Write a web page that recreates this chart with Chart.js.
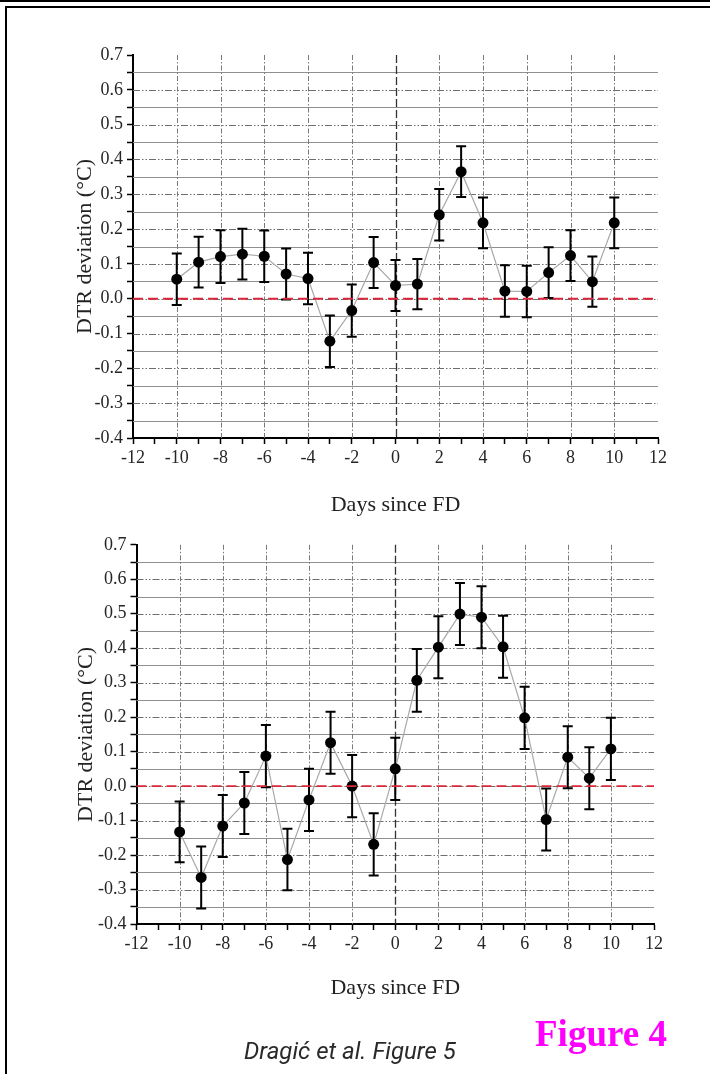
<!DOCTYPE html>
<html>
<head>
<meta charset="utf-8">
<script src="https://cdn.jsdelivr.net/npm/chart.js@4.4.1/dist/chart.umd.min.js"></script>
<style>
  html, body { margin: 0; padding: 0; background: #fff; }
  body { width: 710px; height: 1074px; position: relative; overflow: hidden; }
  .topline { position: absolute; left: 0; top: 0; width: 710px; height: 2px; background: #000; }
  .frame { position: absolute; left: 5px; top: 6px; width: 800px; height: 1200px; border: 2px solid #000; }
  canvas { position: absolute; left: 0; }
  #top { top: 0; }
  #bottom { top: 530px; }
  .credit { position: absolute; left: 244px; top: 1037px; font: italic 24px Roboto, sans-serif; line-height: 28px; color: #2a2a2a; }
  .fig { position: absolute; left: 535px; top: 1012px; font: bold 37px "Liberation Serif", serif; color: #ff00ff; }
</style>
</head>
<body>
<div class="topline"></div>
<div class="frame"></div>
<canvas id="top" width="710" height="530"></canvas>
<canvas id="bottom" width="710" height="510"></canvas>
<div class="credit">Dragić et al. Figure 5</div>
<div class="fig">Figure 4</div>
<script>
const days = [-10, -9, -8, -7, -6, -5, -4, -3, -2, -1, 0, 1, 2, 3, 4, 5, 6, 7, 8, 9, 10];

const topMean = [0.056, 0.105, 0.121, 0.128, 0.122, 0.071, 0.058, -0.122, -0.034, 0.104, 0.038,
  0.042, 0.241, 0.365, 0.218, 0.022, 0.021, 0.075, 0.124, 0.049, 0.218];
const topErr = [0.074, 0.073, 0.076, 0.073, 0.074, 0.073, 0.074, 0.074, 0.075, 0.073, 0.073,
  0.072, 0.074, 0.073, 0.073, 0.074, 0.074, 0.073, 0.073, 0.072, 0.073];

const bottomMean = [-0.133, -0.265, -0.116, -0.049, 0.087, -0.213, -0.04, 0.126, 0.0, -0.169, 0.05,
  0.307, 0.403, 0.499, 0.49, 0.404, 0.198, -0.097, 0.084, 0.023, 0.108];
const bottomErr = [0.088, 0.09, 0.09, 0.09, 0.09, 0.089, 0.09, 0.09, 0.09, 0.09, 0.09,
  0.091, 0.09, 0.09, 0.09, 0.09, 0.09, 0.09, 0.09, 0.09, 0.09];

const X_MIN = -12, X_MAX = 12;
const Y_MIN = -0.4, Y_MAX = 0.7;
const xTitle = "Days since FD";
const yTitle = "DTR deviation (\u00B0C)";

const SERIF = "'Liberation Serif', 'Times New Roman', serif";
const TICK_COLOR = "#262626";

// grid + error bars + zero line
const decorations = {
  id: "decorations",
  beforeDatasetsDraw(chart) {
    const { ctx, chartArea: a, scales: { x, y } } = chart;
    ctx.save();
    // horizontal grid, every 0.05
    y.ticks.forEach((t) => {
      const v = Math.round(t.value * 100);
      if (t.value <= Y_MIN + 1e-9 || t.value >= Y_MAX - 1e-9) return;
      const py = Math.round(y.getPixelForValue(t.value)) + 0.5;
      ctx.beginPath();
      if (v % 10 === 0) {
        ctx.strokeStyle = "#6e6e6e";
        ctx.lineWidth = 1;
        ctx.setLineDash([7, 2, 1.5, 2, 1.5, 2]);
      } else {
        ctx.strokeStyle = "#909090";
        ctx.lineWidth = 1.2;
        ctx.setLineDash([]);
      }
      ctx.moveTo(a.left, py);
      ctx.lineTo(a.right, py);
      ctx.stroke();
    });
    // vertical grid at even days
    x.ticks.forEach((t) => {
      if (t.value % 2 !== 0 || t.value <= X_MIN || t.value >= X_MAX) return;
      const px = Math.round(x.getPixelForValue(t.value)) + 0.5;
      ctx.beginPath();
      if (t.value === 0) {
        ctx.strokeStyle = "#333";
        ctx.lineWidth = 1.3;
        ctx.setLineDash([8, 3]);
      } else {
        ctx.strokeStyle = "#7a7a7a";
        ctx.lineWidth = 1;
        ctx.setLineDash([5, 2, 1.5, 2]);
      }
      ctx.moveTo(px, a.top);
      ctx.lineTo(px, a.bottom);
      ctx.stroke();
    });
    ctx.setLineDash([]);

    // error bars
    const ds = chart.data.datasets[0];
    ctx.strokeStyle = "#000";
    ctx.lineWidth = 2;
    ds.data.forEach((p, i) => {
      const e = ds.errors[i];
      const px = x.getPixelForValue(p.x);
      const hi = y.getPixelForValue(p.y + e);
      const lo = y.getPixelForValue(p.y - e);
      ctx.beginPath();
      ctx.moveTo(px, hi);
      ctx.lineTo(px, lo);
      ctx.moveTo(px - 5, hi);
      ctx.lineTo(px + 5, hi);
      ctx.moveTo(px - 5, lo);
      ctx.lineTo(px + 5, lo);
      ctx.stroke();
    });
    ctx.restore();
  },
  afterDatasetsDraw(chart) {
    const { ctx, chartArea: a, scales: { y } } = chart;
    const py = y.getPixelForValue(0);
    ctx.save();
    ctx.strokeStyle = "#d8283a";
    ctx.lineWidth = 1.8;
    ctx.setLineDash([10, 5]);
    ctx.beginPath();
    ctx.moveTo(a.left, py);
    ctx.lineTo(a.right, py);
    ctx.stroke();
    ctx.restore();
  },
};

function makeChart(id, means, errs, g) {
  const canvas = document.getElementById(id);
  return new Chart(canvas.getContext("2d"), {
    type: "scatter",
    data: {
      datasets: [
        {
          data: days.map((d, i) => ({ x: d, y: means[i] })),
          errors: errs,
          showLine: true,
          borderColor: "#a8a8a8",
          borderWidth: 1.2,
          pointRadius: 5.5,
          pointBackgroundColor: "#000",
          pointBorderColor: "#000",
          pointBorderWidth: 0,
        },
      ],
    },
    options: {
      responsive: false,
      animation: false,
      layout: { padding: { top: g.top, right: g.right, left: 0, bottom: 0 } },
      plugins: { legend: { display: false }, tooltip: { enabled: false } },
      scales: {
        x: {
          type: "linear",
          min: X_MIN,
          max: X_MAX,
          afterFit: (s) => { s.height = g.xHeight; },
          grid: { drawOnChartArea: false, drawTicks: true, tickLength: 6, tickColor: "#000", tickWidth: 1.5 },
          border: { display: true, color: "#000", width: 2 },
          ticks: {
            stepSize: 1,
            autoSkip: false,
            maxRotation: 0,
            padding: 3,
            color: TICK_COLOR,
            font: { family: SERIF, size: 18 },
            callback: (v) => (v % 2 === 0 ? String(v) : ""),
          },
          title: {
            display: true,
            text: xTitle,
            color: "#222",
            font: { family: SERIF, size: 22 },
            padding: { top: 0, bottom: g.xTitlePad },
          },
        },
        y: {
          min: Y_MIN,
          max: Y_MAX,
          afterFit: (s) => { s.width = g.left; },
          grid: { drawOnChartArea: false, drawTicks: true, tickLength: 6, tickColor: "#000", tickWidth: 1.5 },
          border: { display: true, color: "#000", width: 2 },
          ticks: {
            stepSize: 0.05,
            autoSkip: false,
            padding: 4,
            color: TICK_COLOR,
            font: { family: SERIF, size: 18 },
            callback: (v) => {
              const r = Math.round(v * 100);
              if (r % 10 !== 0) return "";
              const t = Math.round(v * 10) / 10;
              return (t === 0 ? 0 : t).toFixed(1);
            },
          },
          title: {
            display: true,
            text: yTitle,
            color: "#222",
            font: { family: SERIF, size: 22 },
            padding: { top: g.yTitlePad, bottom: 0 },
          },
        },
      },
    },
    plugins: [decorations],
  });
}

makeChart("top", topMean, topErr, { top: 55, right: 52, left: 133, xHeight: 92, xTitlePad: 11.8, yTitlePad: 71.8 });
makeChart("bottom", bottomMean, bottomErr, { top: 13, right: 56, left: 136.5, xHeight: 116, xTitlePad: 38.8, yTitlePad: 72.8 });
</script>
</body>
</html>
